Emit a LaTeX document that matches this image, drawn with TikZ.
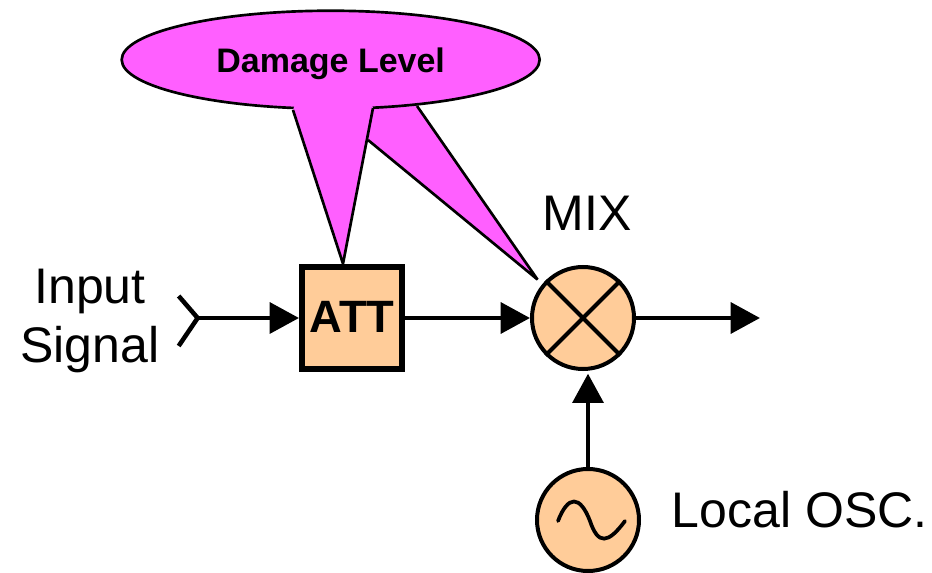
\documentclass[tikz,border=0pt]{standalone}
\usepackage{fontspec}
\setmainfont{Liberation Sans}
\usepackage{xcolor}
\usetikzlibrary{positioning,arrows.meta,calc,shapes.geometric}
\definecolor{blockfill}{HTML}{FFCC99}
\definecolor{dmgfill}{HTML}{FF5FFF}

\begin{document}
\begin{tikzpicture}[
  x=0.75pt, y=-0.75pt,
  blk/.style  = {draw, line width=4.5pt, fill=blockfill, minimum width=75pt,
                 minimum height=77pt, inner sep=0pt, text height=22.5pt, text depth=0pt,
                 font=\fontsize{34}{34}\selectfont\bfseries},
  circ/.style = {draw, circle, line width=3pt, fill=blockfill,
                 minimum size=76.5pt, inner sep=0pt},
  lbl/.style  = {inner sep=0pt, align=center,
                 font=\fontsize{37.5}{44}\selectfont},
  sig/.style  = {line width=3.4pt, -{Triangle[length=22pt,width=23pt]}},
  wdg/.style  = {draw, line width=2pt, line join=bevel}
]
\useasboundingbox (0,0) rectangle (932,573);

% ---------- blocks ----------------------------------------------------------
\node[blk] (att) at (352,318) {ATT};
\node[circ, right=93.75pt of att] (mix) {};
\node[circ, below=72pt of mix, xshift=3.75pt] (osc) {};

\draw[line width=3pt] (mix.north west) -- (mix.south east);
\draw[line width=3pt] (mix.north east) -- (mix.south west);

\draw[line width=2.8pt, line cap=round]
  ($(osc)+(-30,1)$) .. controls ($(osc)+(-20,-25)$) and ($(osc)+(-8,-25)$) .. ($(osc)+(2,1)$)
  .. controls ($(osc)+(10,25)$) and ($(osc)+(20,24)$) .. ($(osc)+(37,1)$);

% ---------- labels ----------------------------------------------------------
\node[lbl, left=104.5pt of att, yshift=-2pt] (input) {Input\\Signal};
\node[lbl, above=26pt of mix, xshift=3pt] (mixlbl) {MIX};
\node[lbl, right=23pt of osc, yshift=7.8pt] (osclbl) {Local OSC.};

% ---------- signal path -----------------------------------------------------
\coordinate[left=76pt of att] (inp);
\coordinate[right=93pt of mix] (out);

\draw[line width=3.4pt, line join=miter] ($(inp)+(-19,-22)$) -- (inp) -- ($(inp)+(-19,28)$);
\draw[sig] (inp) -- (att.west);
\draw[sig] (att.east) -- (mix.west);
\draw[sig] (mix.east) -- (out);
\draw[sig, shorten >=2pt] (osc.north) -- (osc.north |- mix.south);

% ---------- damage callout --------------------------------------------------
\coordinate (wa) at (293,110);
\coordinate (wb) at (373,108);
\coordinate (wc) at (417,106);
\coordinate (wd) at (368,140);
\coordinate (atip) at ($(att.north)+(-9,0)$);
\coordinate (mtip) at ($(mix.north west)+(-8,-1)$);

\fill[dmgfill] (wb) -- (wd) -- (mtip) -- (wc) -- cycle;
\draw[wdg] (wc) -- (mtip) -- (wd);

\node[draw, ellipse, line width=2pt, fill=dmgfill, minimum width=313.5pt,
      minimum height=73.5pt, inner sep=0pt, above=115.2pt of att, xshift=-16pt,
      text height=19.5pt, text depth=0pt,
      font=\fontsize{25.5}{25.5}\selectfont\bfseries] (dmg) {Damage Level};

\fill[dmgfill] (wa) -- (atip) -- (wb) -- ($(wb)+(-2,-6)$) -- ($(wa)+(2,-6)$) -- cycle;
\draw[wdg] (wa) -- (atip) -- (wb);

\end{tikzpicture}
\end{document}
